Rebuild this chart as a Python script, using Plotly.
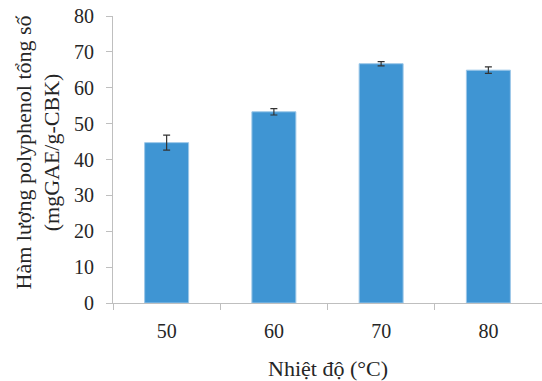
import plotly.graph_objects as go

categories = ["50", "60", "70", "80"]
values = [44.7, 53.3, 66.7, 64.9]
errors = [2.1, 0.9, 0.6, 0.9]
y_ticks = [0, 10, 20, 30, 40, 50, 60, 70, 80]
y_title_lines = ["Hàm lượng polyphenol tổng số", "(mgGAE/g-CBK)"]
x_title = "Nhiệt độ (°C)"

FONT = "Liberation Serif"
AX = "#bfbfbf"

fig = go.Figure()
fig.add_trace(go.Bar(
    x=categories, y=values,
    marker=dict(color="#3f95d3", line=dict(color="#9cc7e8", width=1)),
    error_y=dict(type="data", array=errors, visible=True,
                 color="#333333", thickness=1.2, width=3.5),
))

fig.update_layout(
    width=542, height=381,
    margin=dict(l=113, r=0, t=16, b=78),
    paper_bgcolor="white", plot_bgcolor="white",
    bargap=0.59,
    showlegend=False,
    font=dict(family=FONT, size=20, color="#262626"),
    xaxis=dict(
        type="category",
        showline=True, linecolor=AX, linewidth=1,
        ticks="outside", tickson="boundaries", ticklen=6, tickcolor=AX,
        showgrid=False, zeroline=False,
        tickfont=dict(family=FONT, size=20, color="#262626"),
        ticklabelstandoff=10,
    ),
    yaxis=dict(
        range=[0, 80], tickvals=y_ticks,
        showline=True, linecolor=AX, linewidth=1,
        ticks="outside", ticklen=6, tickcolor=AX,
        showgrid=False, zeroline=False,
        tickfont=dict(family=FONT, size=20, color="#262626"),
        ticklabelstandoff=8, ticklabeloverflow="allow",
    ),
    annotations=[
        dict(text="<br>".join(y_title_lines), textangle=-90,
             xref="paper", yref="paper", x=0, y=0.5,
             xanchor="center", yanchor="middle", xshift=-76, yshift=7,
             showarrow=False, font=dict(family=FONT, size=22, color="#262626")),
        dict(text=x_title, xref="paper", yref="paper", x=0.5, y=0,
             xanchor="center", yanchor="middle", yshift=-65,
             showarrow=False, font=dict(family=FONT, size=22, color="#262626")),
    ],
)

fig.write_html(
    "out.html",
    config={"displayModeBar": False},
    post_script="document.body.style.margin='0';document.body.style.padding='0';",
)
